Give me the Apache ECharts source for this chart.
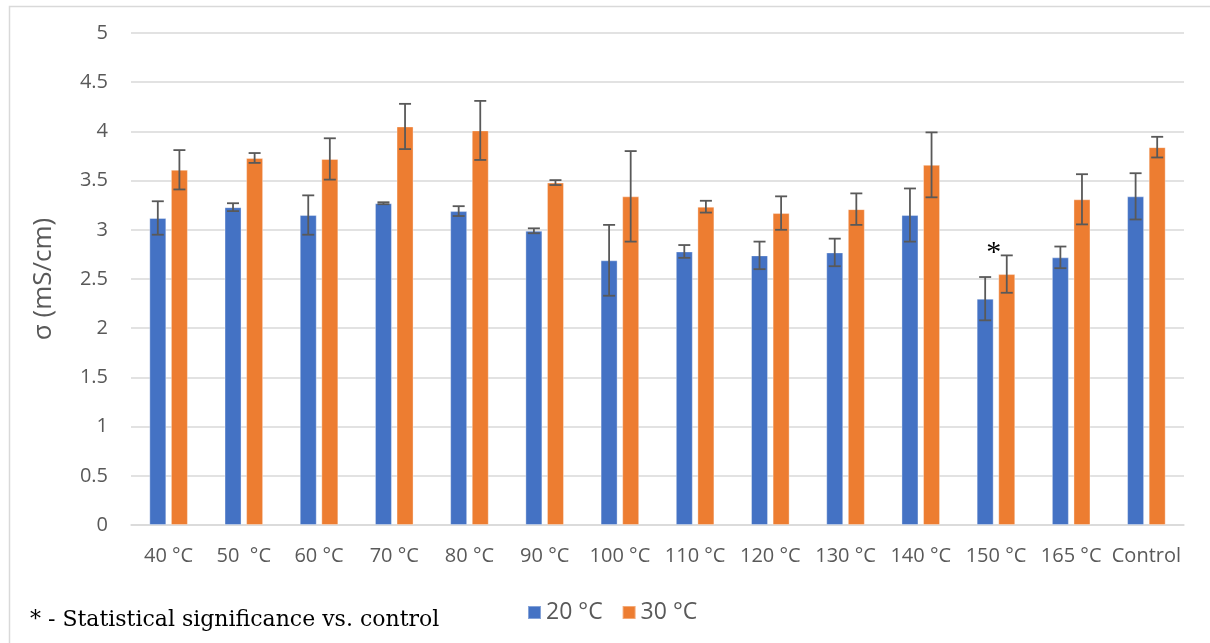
<!DOCTYPE html>
<html>
<head>
<meta charset="utf-8">
<script src="https://cdn.jsdelivr.net/npm/echarts@6/dist/echarts.min.js"></script>
<style>html,body{margin:0;padding:0;background:#fff}#c{width:1210px;height:643px}</style>
</head>
<body>
<div id="c"></div>
<script>
var categories = ['40 °C', '50  °C', '60 °C', '70 °C', '80 °C', '90 °C', '100 °C', '110 °C', '120 °C', '130 °C', '140 °C', '150 °C', '165 °C', 'Control'];
var series20 = [3.12, 3.23, 3.15, 3.27, 3.19, 2.99, 2.69, 2.78, 2.74, 2.77, 3.15, 2.30, 2.72, 3.34];
var err20 = [0.17, 0.04, 0.20, 0.01, 0.05, 0.025, 0.36, 0.065, 0.14, 0.14, 0.27, 0.22, 0.11, 0.235];
var series30 = [3.61, 3.73, 3.72, 4.05, 4.01, 3.48, 3.34, 3.235, 3.17, 3.21, 3.66, 2.55, 3.31, 3.84];
var err30 = [0.20, 0.05, 0.21, 0.23, 0.30, 0.025, 0.46, 0.06, 0.17, 0.16, 0.33, 0.19, 0.255, 0.105];
var yTicks = {min: 0, max: 5, interval: 0.5};
var significance = [{category: '150 °C', value: 2.80, text: '*'}];

var BAR_FRAC = 0.226, GAP_FRAC = 0.27;

function errData(vals, errs) {
  return vals.map(function (v, i) { return [i, v - errs[i], v + errs[i]]; });
}
function errRender(side) {
  return function (params, api) {
    var idx = api.value(0);
    var lo = api.coord([idx, api.value(1)]);
    var hi = api.coord([idx, api.value(2)]);
    var band = api.size([1, 0])[0];
    var bw = band * BAR_FRAC;
    var off = side * (bw + bw * GAP_FRAC) / 2;
    var x = lo[0] + off;
    var cap = 6;
    var st = {stroke: '#595959', lineWidth: 1.8};
    return {
      type: 'group',
      children: [
        {type: 'line', shape: {x1: x, y1: lo[1], x2: x, y2: hi[1]}, style: st},
        {type: 'line', shape: {x1: x - cap, y1: lo[1], x2: x + cap, y2: lo[1]}, style: st},
        {type: 'line', shape: {x1: x - cap, y1: hi[1], x2: x + cap, y2: hi[1]}, style: st}
      ]
    };
  };
}

var chart = echarts.init(document.getElementById('c'), null, {renderer: 'canvas'});
chart.setOption({
  animation: false,
  backgroundColor: '#ffffff',
  graphic: [{
    type: 'rect', left: 7, top: 4, shape: {width: 1400, height: 800},
    style: {fill: 'none', stroke: '#d9d9d9', lineWidth: 1.5}, silent: true, z: -10
  }],
  title: {
    text: '* - Statistical significance vs. control',
    left: 25, top: 604,
    textStyle: {fontFamily: 'DejaVu Serif', fontSize: 22, fontWeight: 'normal', color: '#000000'}
  },
  legend: {
    data: ['20 °C', '30 °C'],
    left: 522, top: 596,
    itemWidth: 13, itemHeight: 13, itemGap: 19,
    icon: 'rect',
    textStyle: {fontFamily: 'Open Sans', fontSize: 23, color: '#595959'}
  },
  grid: {left: 131, right: 26, top: 33, bottom: 118, containLabel: false},
  xAxis: {
    type: 'category',
    data: categories,
    axisLine: {lineStyle: {color: '#d9d9d9', width: 1.5}},
    axisTick: {show: false},
    axisLabel: {fontFamily: 'Open Sans', fontSize: 20, color: '#595959', margin: 21, interval: 0}
  },
  yAxis: {
    type: 'value',
    min: yTicks.min, max: yTicks.max, interval: yTicks.interval,
    name: 'σ (mS/cm)',
    nameLocation: 'middle',
    nameGap: 74,
    nameTextStyle: {fontFamily: 'Open Sans', fontSize: 26, color: '#595959'},
    axisLine: {show: false},
    axisTick: {show: false},
    axisLabel: {fontFamily: 'Open Sans', fontSize: 20, color: '#595959', margin: 23},
    splitLine: {lineStyle: {color: '#d9d9d9', width: 1.5}}
  },
  series: [
    {
      name: '20 °C', type: 'bar', data: series20,
      barWidth: (BAR_FRAC * 100) + '%', barGap: (GAP_FRAC * 100) + '%',
      itemStyle: {color: '#4472C4', borderColor: 'rgba(255,255,255,0.35)', borderWidth: 1}
    },
    {
      name: '30 °C', type: 'bar', data: series30,
      barWidth: (BAR_FRAC * 100) + '%', barGap: (GAP_FRAC * 100) + '%',
      itemStyle: {color: '#ED7D31', borderColor: 'rgba(255,255,255,0.35)', borderWidth: 1},
      markPoint: {
        symbol: 'circle', symbolSize: 0,
        data: significance.map(function (s) {
          return {coord: [s.category, s.value], value: s.text};
        }),
        label: {show: true, formatter: '{c}', fontFamily: 'Liberation Serif', fontSize: 30, color: '#000000', offset: [-13, 4]}
      }
    },
    {
      name: 'err20', type: 'custom', data: errData(series20, err20),
      renderItem: errRender(-1), z: 5, silent: true,
      encode: {x: 0, y: [1, 2]}
    },
    {
      name: 'err30', type: 'custom', data: errData(series30, err30),
      renderItem: errRender(1), z: 5, silent: true,
      encode: {x: 0, y: [1, 2]}
    }
  ]
});
</script>
</body>
</html>
